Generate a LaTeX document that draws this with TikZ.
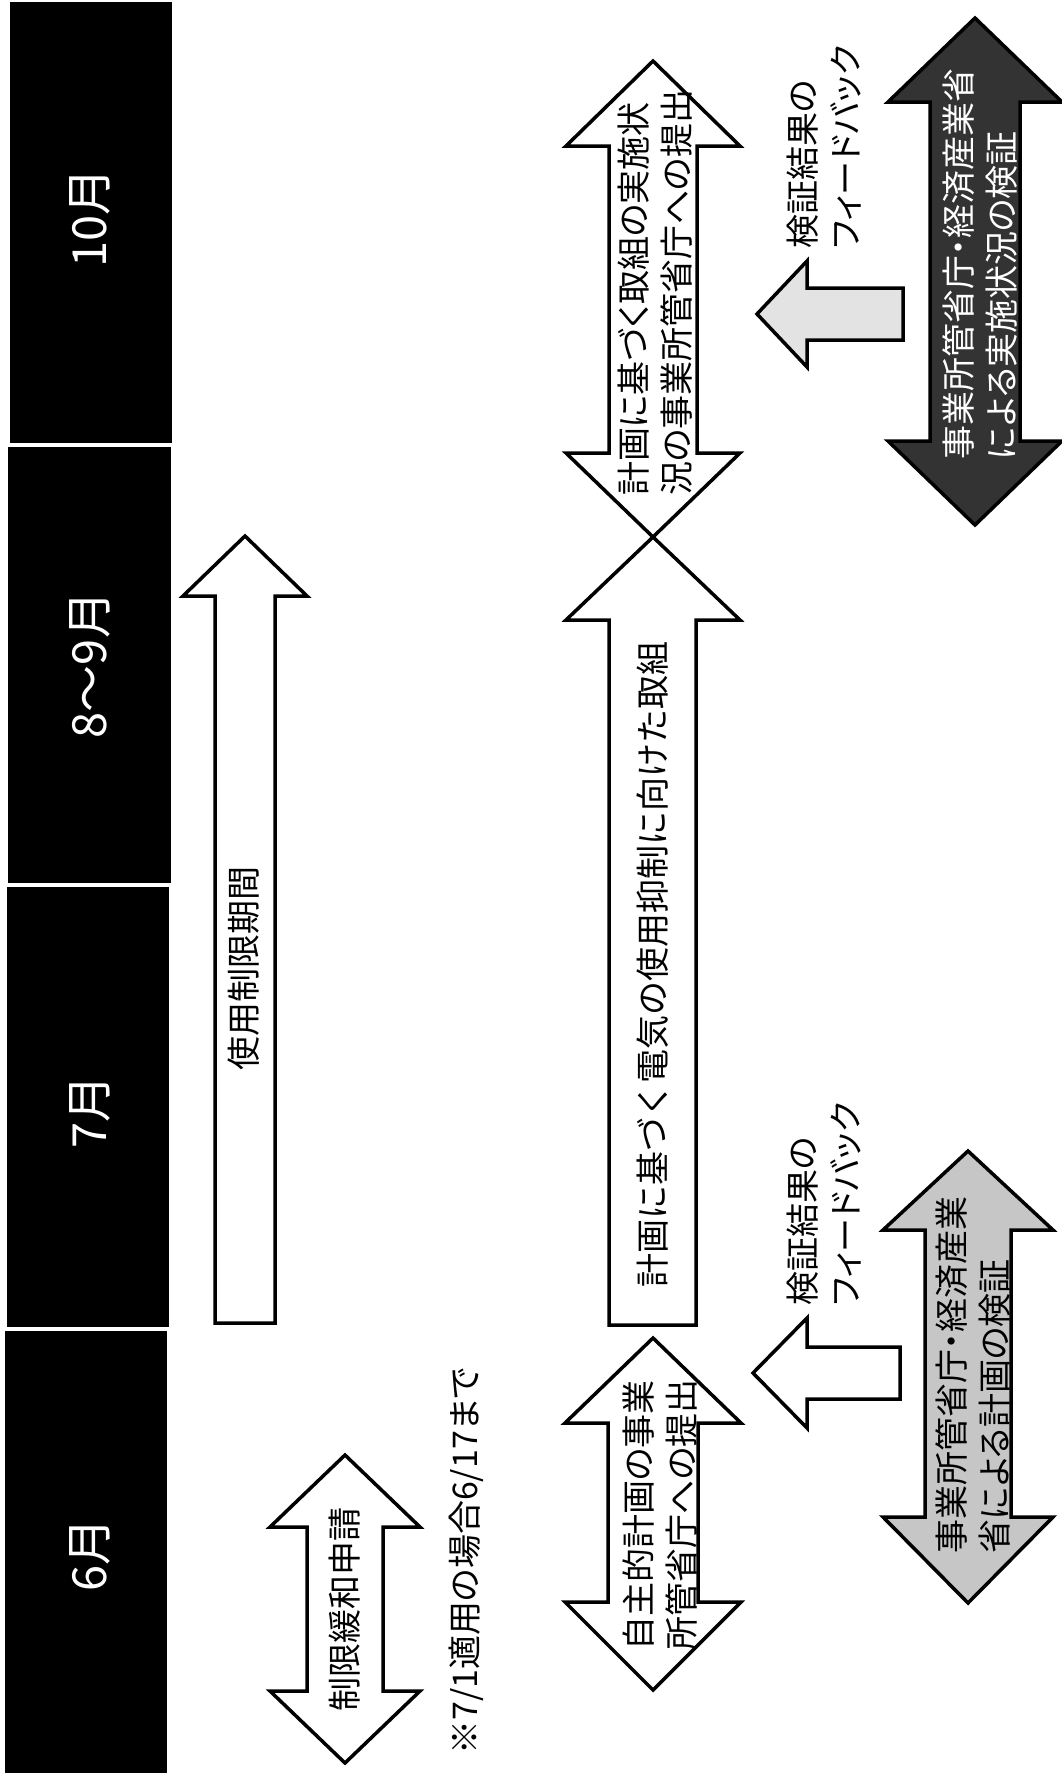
\documentclass[tikz,border=0pt]{standalone}
\usepackage{fontspec}
\setmainfont{Noto Sans CJK JP}[RawFeature=+palt]
\newfontfamily\monojp{Noto Sans CJK JP}
\begin{document}
\begin{tikzpicture}[x=1pt,y=-1pt,
  arr/.style={draw=black, line width=3.5pt, line join=miter, fill=white},
  hdr/.style={fill=black, draw=none},
  hdrtxt/.style={rotate=90, inner sep=0pt, text=white, font=\fontsize{47}{52}\selectfont},
  lbl/.style={rotate=90, inner sep=0pt, anchor=west, align=left, font=\fontsize{34}{43}\selectfont}
]
\fill[white] (0,0) rectangle (1062,1775);
\useasboundingbox (0,0) rectangle (1062,1775);

% header bars
\fill[hdr] (10,2) rectangle (172,443);
\fill[hdr] (8,447) rectangle (171,883);
\fill[hdr] (7,887) rectangle (169,1327);
\fill[hdr] (5,1331) rectangle (167,1773);
\node[hdrtxt] (m10) at (90,218) {10月};
\node[hdrtxt] (m89) at (90,665) {8～9月};
\node[hdrtxt] (m7) at (90,1112) {7月};
\node[hdrtxt] (m6) at (90,1555) {6月};

% usage period arrow
\draw[arr] (245,536) -- (307,596) -- (275,596) -- (275,1323) -- (215,1323) -- (215,596) -- (183,596) -- cycle;
\node[lbl] (usage) at (244,1071) {使用制限期間};

% relaxation application
\draw[arr] (345,1455) -- (420,1527) -- (383,1527) -- (383,1691) -- (420,1691) -- (345,1763) -- (270,1691) -- (307,1691) -- (307,1527) -- (270,1527) -- cycle;
\node[lbl] (relax) at (345,1712) {制限緩和申請};
\node[lbl] (note) at (466,1755) {※7/1適用の場合6/17まで};

% voluntary plan submission
\draw[arr] (653,1338) -- (741,1423) -- (698,1423) -- (698,1602) -- (741,1602) -- (653,1690) -- (565,1602) -- (608,1602) -- (608,1423) -- (565,1423) -- cycle;
\node[lbl] (plan) at (660,1651) {自主的計画の事業\\所管省庁への提出};

% main effort arrow
\draw[arr] (653,537) -- (740,620) -- (696,620) -- (696,1325) -- (609,1325) -- (609,620) -- (566,620) -- cycle;
\node[lbl, font=\monojp\fontsize{34}{43}\selectfont] (effort) at (653,1288) {計画に基づく電気の使用抑制に向けた取組};

% status submission double arrow
\draw[arr] (653,61) -- (740,146) -- (697,146) -- (697,453) -- (740,453) -- (653,537) -- (566,453) -- (609,453) -- (609,146) -- (566,146) -- cycle;
\node[lbl] (status) at (655,496) {計画に基づく取組の実施状\\況の事業所管省庁への提出};

% feedback arrows
\draw[arr, fill=gray!22] (757,314) -- (807,261) -- (807,288) -- (903,288) -- (903,340) -- (807,340) -- (807,367) -- cycle;
\node[lbl] (fb1) at (824,249) {検証結果の\\フィードバック};
\draw[arr] (753,1373) -- (807,1318) -- (807,1347) -- (900,1347) -- (900,1399) -- (807,1399) -- (807,1428) -- cycle;
\node[lbl] (fb2) at (824,1306) {検証結果の\\フィードバック};

% verification arrows
\draw[arr, fill=black!80] (975,18) -- (1062,102) -- (1020,102) -- (1020,441) -- (1062,441) -- (975,525) -- (888,441) -- (930,441) -- (930,102) -- (888,102) -- cycle;
\node[lbl, text=white] (ver1) at (980,460) {事業所管省庁・経済産業省\\による実施状況の検証};
\draw[arr, fill=gray!45] (968,1151) -- (1053,1230) -- (1011,1230) -- (1011,1517) -- (1053,1517) -- (968,1603) -- (883,1517) -- (925,1517) -- (925,1230) -- (883,1230) -- cycle;
\node[lbl] (ver2) at (973,1554) {事業所管省庁・経済産業\\省による計画の検証};
\end{tikzpicture}
\end{document}
